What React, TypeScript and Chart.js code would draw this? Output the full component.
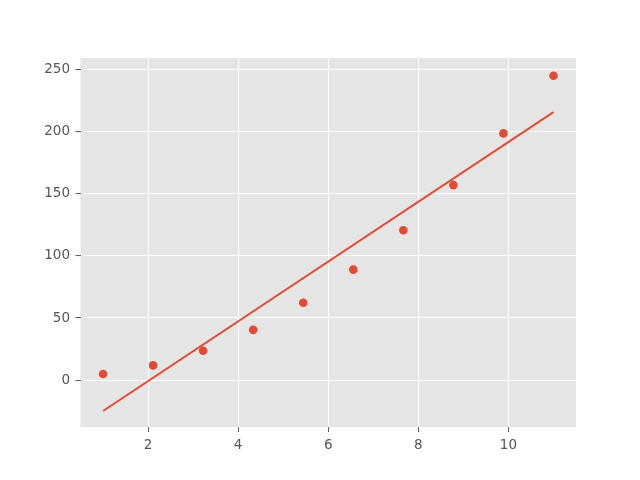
import React, { useEffect, useRef } from "react";
import { Chart, registerables } from "chart.js";

Chart.register(...registerables);

const xValues = [1, 2.111, 3.222, 4.333, 5.444, 6.556, 7.667, 8.778, 9.889, 11];
const yValues = [5, 11.9, 23.7, 40.5, 62.3, 89, 120.6, 157, 198.6, 245];
const fitX = [1, 11];
const fitY = [-24.8, 215.8];
const xTicks = [2, 4, 6, 8, 10];
const yTicks = [0, 50, 100, 150, 200, 250];

const RED = "#E24A33";

const bgPlugin = {
  id: "plotBg",
  beforeDraw(chart: any) {
    const { ctx, chartArea } = chart;
    ctx.save();
    ctx.fillStyle = "#FFFFFF";
    ctx.fillRect(0, 0, chart.width, chart.height);
    ctx.fillStyle = "#E5E5E5";
    ctx.fillRect(chartArea.left, chartArea.top, chartArea.right - chartArea.left, chartArea.bottom - chartArea.top);
    ctx.restore();
  },
};

export default function App() {
  const ref = useRef<HTMLCanvasElement>(null);
  useEffect(() => {
    const chart = new Chart(ref.current!, {
      type: "scatter",
      data: {
        datasets: [
          {
            type: "scatter",
            data: xValues.map((x, i) => ({ x, y: yValues[i] })),
            backgroundColor: RED,
            borderColor: RED,
            pointRadius: 4.3,
            borderWidth: 0,
            order: 2,
          },
          {
            type: "line",
            data: fitX.map((x, i) => ({ x, y: fitY[i] })),
            borderColor: RED,
            borderWidth: 2,
            pointRadius: 0,
            fill: false,
            order: 1,
          } as any,
        ],
      },
      plugins: [bgPlugin],
      options: {
        animation: false,
        responsive: false,
        devicePixelRatio: 1,
        layout: { padding: { top: 58, right: 64, left: 0, bottom: 0 } },
        plugins: { legend: { display: false }, tooltip: { enabled: false } },
        scales: {
          x: {
            type: "linear",
            min: 0.5,
            max: 11.5,
            border: { display: false },
            grid: { color: "#FFFFFF", lineWidth: 1.1, tickColor: "#555555", tickLength: 5, tickWidth: 1 },
            ticks: { color: "#555555", font: { family: "DejaVu Sans", size: 13.5 }, padding: 5 },
            afterBuildTicks: (s: any) => { s.ticks = xTicks.map((v) => ({ value: v })); },
            afterFit: (s: any) => { s.height = 480 - 427; },
          },
          y: {
            type: "linear",
            min: -37.7,
            max: 259.3,
            border: { display: false },
            grid: { color: "#FFFFFF", lineWidth: 1.1, tickColor: "#555555", tickLength: 5, tickWidth: 1 },
            ticks: { color: "#555555", font: { family: "DejaVu Sans", size: 13.5 }, padding: 5.5 },
            afterBuildTicks: (s: any) => { s.ticks = yTicks.map((v) => ({ value: v })); },
            afterFit: (s: any) => { s.width = 80.5; },
          },
        },
      },
    });
    return () => chart.destroy();
  }, []);
  return (
    <div style={{ position: "fixed", left: 0, top: 0, width: 640, height: 480, background: "#fff" }}>
      <canvas ref={ref} width={640} height={480} style={{ width: 640, height: 480, display: "block" }} />
    </div>
  );
}
